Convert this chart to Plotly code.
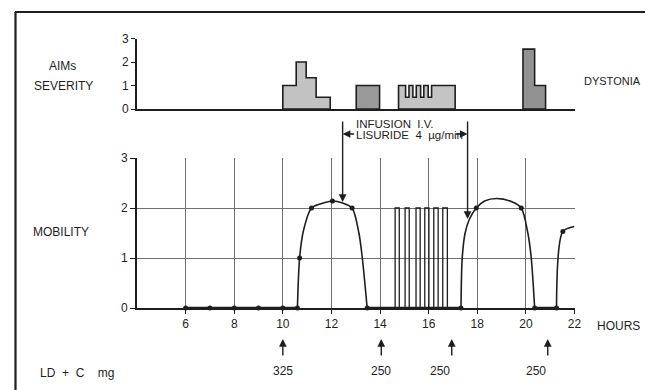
import plotly.graph_objects as go

# ---------------- data ----------------
# Upper panel: AIMs severity (step outlines)
aims1_edges = [10.0, 10.55, 10.96, 11.37, 11.95]
aims1_heights = [1, 2, 1.33, 0.5]
aims2_edges = [13.02, 13.98]
aims2_heights = [1]
aims3_edges = [14.76, 15.05, 15.19, 15.35, 15.49, 15.67, 15.80, 15.98, 16.12, 17.09]
aims3_heights = [1, 0.5, 1, 0.5, 1, 0.5, 1, 0.5, 1]
aims4_edges = [19.88, 20.36, 20.81]
aims4_heights = [2.55, 1]

# Lower panel: mobility
mob_marker_hours = [6, 7, 8, 9, 10, 10.6, 10.69, 11.18, 12.04, 12.85, 13.47,
                    17.33, 17.96, 19.81, 20.36, 21.26, 21.52]
mob_marker_values = [0, 0, 0, 0, 0, 0, 1, 2, 2.14, 2.0, 0,
                     0, 2.0, 2.0, 0, 0, 1.53]
arc1_hours = [10.6, 10.69, 10.85, 11.18, 11.6, 12.04, 12.46, 12.85, 13.13, 13.27, 13.47]
arc1_values = [0, 1, 1.55, 2.0, 2.09, 2.14, 2.1, 2.0, 1.5, 1.0, 0]
arc2_hours = [17.33, 17.38, 17.5, 17.68, 17.96, 18.3, 18.8, 19.4, 19.81, 20.08, 20.22, 20.36]
arc2_values = [0, 1.0, 1.5, 1.78, 2.0, 2.14, 2.19, 2.13, 2.0, 1.5, 1.0, 0]
arc3_hours = [21.26, 21.52, 22.0]
arc3_values = [0, 1.53, 1.63]
flat_hours = [6, 10.6, 13.47, 17.33, 20.36, 21.26]
pulse_starts = [14.62, 15.03, 15.48, 15.84, 16.21, 16.58]
pulse_ends = [14.79, 15.20, 15.65, 16.01, 16.39, 16.77]
pulse_level = 2

# Infusion period (arrows) and levodopa doses
infusion_start = 12.46
infusion_start_value = 2.12
infusion_end = 17.6
infusion_end_value = 1.78
dose_hours = [10.0, 14.05, 16.95, 20.9]
dose_labels = ["325", "250", "250", "250"]

x_ticks = [6, 8, 10, 12, 14, 16, 18, 20, 22]
y_ticks = [0, 1, 2, 3]

# ---------------- figure ----------------
INK = "#1e1e1e"
FONT = "Liberation Sans"
OFF = 8                      # page offset of the plot div inside the window
W, H = 653 - OFF, 390 - OFF
X0_PX, X1_PX = 137, 574.5          # hours 4 .. 22 (window pixels)
XMIN, XMAX = 4, 22
LOW0_PX, LOW3_PX = 308, 158        # mobility 0 .. 3
UP0_PX, UP3_PX = 109, 38.5         # severity 0 .. 3


def px_x(p):
    return (p - OFF) / W


def px_y(p):
    return 1 - (p - OFF) / H


def hour_to_paper(h):
    return px_x(X0_PX + (h - XMIN) / (XMAX - XMIN) * (X1_PX - X0_PX))


def step_outline(edges, heights):
    xs, ys = [edges[0]], [0]
    for i, h in enumerate(heights):
        xs += [edges[i], edges[i + 1]]
        ys += [h, h]
    xs += [edges[-1], edges[0]]
    ys += [0, 0]
    return xs, ys


fig = go.Figure()

for edges, heights, col in [(aims1_edges, aims1_heights, "#c2c2c2"),
                            (aims2_edges, aims2_heights, "#9a9a9a"),
                            (aims3_edges, aims3_heights, "#c4c4c4"),
                            (aims4_edges, aims4_heights, "#929292")]:
    sx, sy = step_outline(edges, heights)
    fig.add_trace(go.Scatter(x=sx, y=sy, mode="lines", fill="toself",
                             fillcolor=col, line=dict(color=INK, width=1.6),
                             xaxis="x2", yaxis="y2", hoverinfo="skip"))

# flat zero segments
for i in range(0, len(flat_hours), 2):
    fig.add_trace(go.Scatter(x=[flat_hours[i], flat_hours[i + 1]], y=[0, 0],
                             mode="lines", line=dict(color=INK, width=2.5)))

# pulses
pxs, pys = [flat_hours[2]], [0]
for s, e in zip(pulse_starts, pulse_ends):
    pxs += [s, s, e, e]
    pys += [0, pulse_level, pulse_level, 0]
pxs += [flat_hours[3]]
pys += [0]
fig.add_trace(go.Scatter(x=pxs, y=pys, mode="lines",
                         line=dict(color=INK, width=1.3)))

for hx, vy in [(arc1_hours, arc1_values), (arc2_hours, arc2_values),
               (arc3_hours, arc3_values)]:
    fig.add_trace(go.Scatter(x=hx, y=vy, mode="lines", cliponaxis=False,
                             line=dict(color=INK, width=1.6, shape="spline",
                                       smoothing=0.8)))

fig.add_trace(go.Scatter(x=mob_marker_hours, y=mob_marker_values, mode="markers",
                         marker=dict(color=INK, size=5), cliponaxis=False))

annotations = []
arrow_style = dict(showarrow=True, arrowhead=2, arrowsize=1.1, arrowwidth=1.4,
                   arrowcolor=INK, text="")
# infusion arrows (vertical), head on the curve, tail at y=120 px
for xx, yy in [(infusion_start, infusion_start_value), (infusion_end, infusion_end_value)]:
    head_px = LOW0_PX - yy * (LOW0_PX - LOW3_PX) / 3
    annotations.append(dict(x=xx, y=yy, xref="x", yref="y", ax=0, ay=120 - head_px,
                            **arrow_style))
# horizontal small arrows at y=134 px
annotations.append(dict(x=hour_to_paper(infusion_start), y=px_y(134), xref="paper",
                        yref="paper", ax=13, ay=0, **arrow_style))
annotations.append(dict(x=hour_to_paper(infusion_end), y=px_y(134), xref="paper",
                        yref="paper", ax=-13, ay=0, **arrow_style))
annotations.append(dict(x=px_x(354), y=px_y(124), xref="paper", yref="paper",
                        text="INFUSION  I.V.", showarrow=False, xanchor="left",
                        yanchor="middle", font=dict(size=11.5, color=INK, family=FONT)))
annotations.append(dict(x=px_x(354), y=px_y(135), xref="paper", yref="paper",
                        text="LISURIDE  4  µg/min", showarrow=False, xanchor="left",
                        yanchor="middle", font=dict(size=11.5, color=INK, family=FONT)))

# dose arrows
for dh, dl in zip(dose_hours, dose_labels):
    annotations.append(dict(x=hour_to_paper(dh), y=px_y(339), xref="paper",
                            yref="paper", ax=0, ay=18, **arrow_style))
    annotations.append(dict(x=hour_to_paper(dh), y=px_y(371), xref="paper",
                            yref="paper", text=dl, showarrow=False,
                            yanchor="middle",
                            font=dict(size=12, color=INK, family=FONT)))

# labels
for txt, xp, yp, anc, sz in [("AIMs", 62, 66, "center", 12),
                             ("SEVERITY", 63, 86, "center", 12),
                             ("DYSTONIA", 643, 81, "right", 11),
                             ("MOBILITY", 31, 232, "left", 12),
                             ("HOURS", 595, 326, "left", 12),
                             ("LD  +  C    mg", 38, 373, "left", 12)]:
    annotations.append(dict(x=px_x(xp), y=px_y(yp), xref="paper", yref="paper",
                            text=txt, showarrow=False, xanchor=anc, yanchor="middle",
                            font=dict(size=sz, color=INK, family=FONT)))

shapes = [
    dict(type="line", xref="paper", yref="paper", x0=px_x(15), x1=1.01,
         y0=px_y(12), y1=px_y(12), line=dict(color=INK, width=2.2)),
    dict(type="line", xref="paper", yref="paper", x0=px_x(15.5), x1=px_x(15.5),
         y0=px_y(12), y1=-0.01, line=dict(color=INK, width=2.2)),
]

xdom = [px_x(X0_PX), px_x(X1_PX)]
axis_common = dict(tickcolor=INK, linecolor=INK, linewidth=2, zeroline=False,
                   automargin=False,
                   tickfont=dict(size=12, family=FONT, color=INK))
fig.update_layout(
    template="none",
    width=W, height=H,
    margin=dict(l=0, r=0, t=0, b=0, pad=0, autoexpand=False),
    paper_bgcolor="white", plot_bgcolor="white", showlegend=False,
    font=dict(family=FONT, size=12, color=INK),
    annotations=annotations, shapes=shapes,
    xaxis=dict(domain=xdom, range=[XMIN, XMAX], anchor="y", tickvals=x_ticks,
               ticks="outside", ticklen=4, showline=True, showgrid=True,
               gridcolor="#707070", gridwidth=0.8, **axis_common),
    yaxis=dict(domain=[px_y(LOW0_PX), px_y(LOW3_PX)], range=[0, 3], anchor="x",
               tickvals=y_ticks, ticks="outside", ticklen=5, showline=True,
               showgrid=True, gridcolor="#707070", gridwidth=0.8, **axis_common),
    xaxis2=dict(domain=xdom, range=[XMIN, XMAX], anchor="y2", matches="x",
                showticklabels=False, ticks="", showline=True, showgrid=False,
                **axis_common),
    yaxis2=dict(domain=[px_y(UP0_PX), px_y(UP3_PX)], range=[0, 3], anchor="x2",
                tickvals=y_ticks, ticks="outside", ticklen=4, showline=True,
                showgrid=False, **axis_common),
)

fig.write_html("out.html")
